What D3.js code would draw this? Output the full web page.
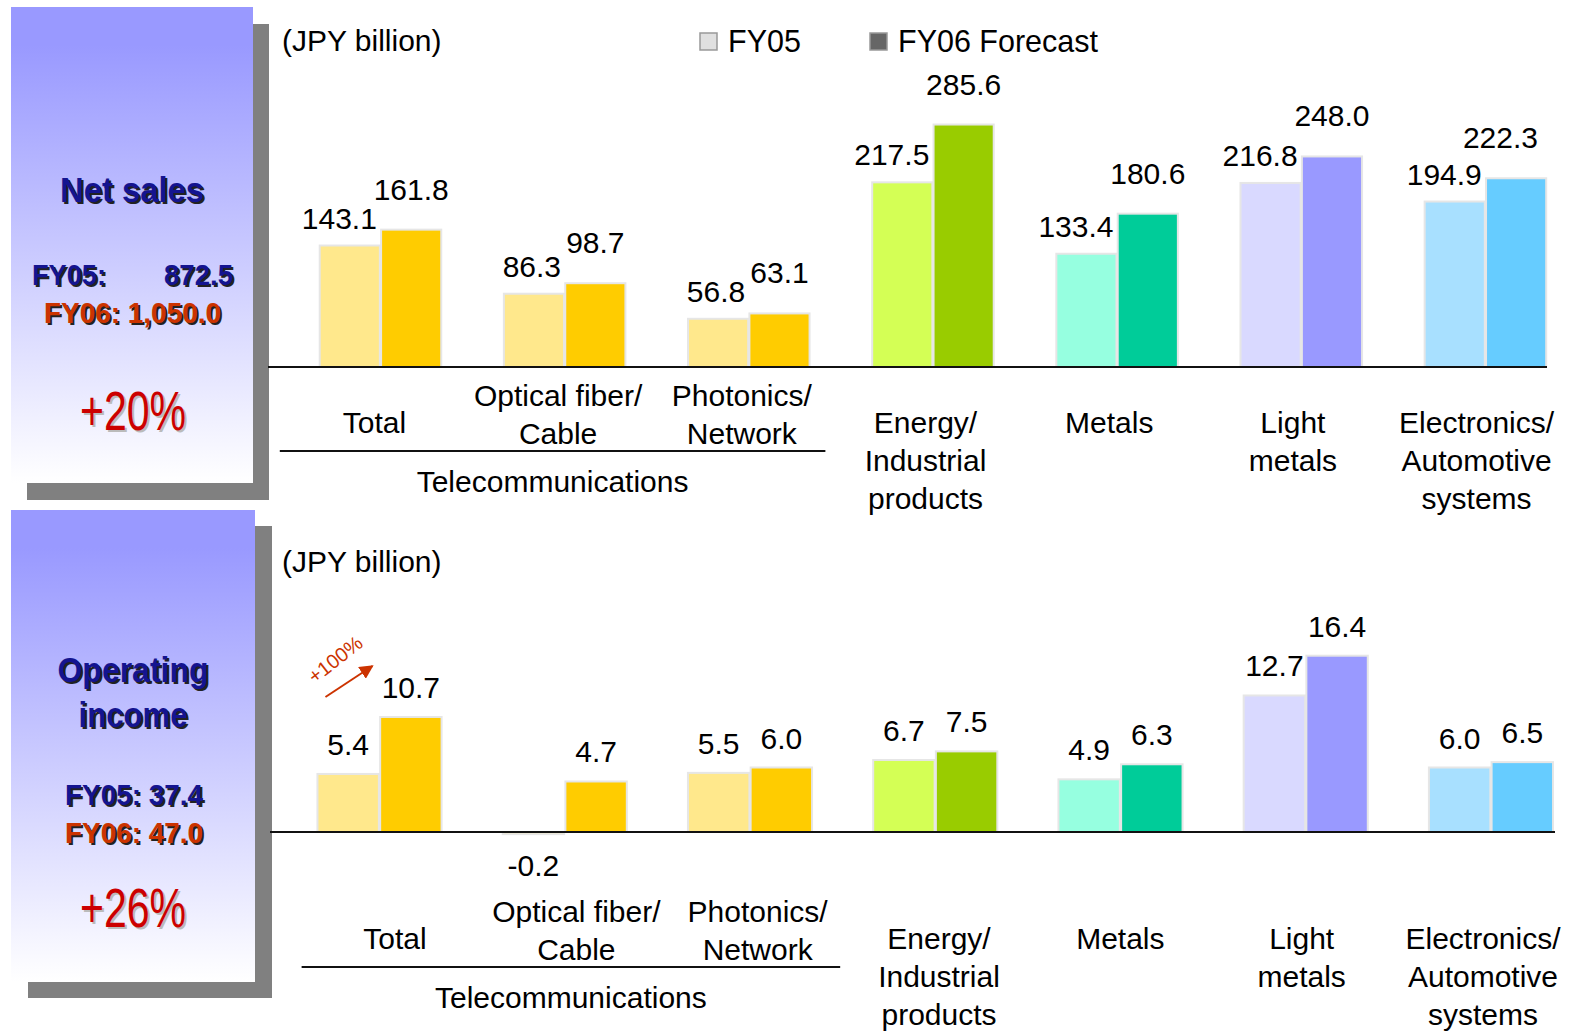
<!DOCTYPE html>
<html><head><meta charset="utf-8">
<script src="https://cdn.jsdelivr.net/npm/d3@7"></script>
<style>body{margin:0;background:#fff}svg{display:block}</style>
</head><body>
<svg id="c" width="1569" height="1032"></svg>
<script>
// ---------- DATA ----------
const categories = ["Total", "Optical fiber/ Cable", "Photonics/ Network", "Energy/ Industrial products", "Metals", "Light metals", "Electronics/ Automotive systems"];
const categoryLines = [["Total"], ["Optical fiber/", "Cable"], ["Photonics/", "Network"], ["Energy/", "Industrial", "products"], ["Metals"], ["Light", "metals"], ["Electronics/", "Automotive", "systems"]];
const telecomGroup = ["Total", "Optical fiber/ Cable", "Photonics/ Network"];
const groupLabel = "Telecommunications";
const seriesNames = ["FY05", "FY06 Forecast"];
const unitLabel = "(JPY billion)";

const salesFY05 = [143.1, 86.3, 56.8, 217.5, 133.4, 216.8, 194.9];
const salesFY06 = [161.8, 98.7, 63.1, 285.6, 180.6, 248.0, 222.3];
const incomeFY05 = [5.4, -0.2, 5.5, 6.7, 4.9, 12.7, 6.0];
const incomeFY06 = [10.7, 4.7, 6.0, 7.5, 6.3, 16.4, 6.5];

const colorsFY05 = ["#ffe88c", "#ffe88c", "#ffe88c", "#d4ff55", "#96ffe0", "#d9d9ff", "#a8e0ff"];
const colorsFY06 = ["#ffcc00", "#ffcc00", "#ffcc00", "#99cc00", "#00cc99", "#9999ff", "#66ccff"];
const legendColors = ["#e0e0e0", "#666666"];

const salesSummary = { title: ["Net sales"], fy05: ["FY05:", "872.5"], fy06: "FY06: 1,050.0", change: "+20%" };
const incomeSummary = { title: ["Operating", "income"], fy05: "FY05: 37.4", fy06: "FY06: 47.0", change: "+26%" };
const growthNote = "+100%";

// ---------- SETUP ----------
const FONT = "'Liberation Sans', Arial, Helvetica, sans-serif";
const FS = 30;
const svg = d3.select("#c");
const defs = svg.append("defs");
const grad = defs.append("linearGradient").attr("id", "pg").attr("x1", 0).attr("y1", 0).attr("x2", 0).attr("y2", 1);
grad.append("stop").attr("offset", "0%").attr("stop-color", "#9999ff");
grad.append("stop").attr("offset", "8%").attr("stop-color", "#9999ff");
grad.append("stop").attr("offset", "100%").attr("stop-color", "#ffffff");
defs.append("marker").attr("id", "arr").attr("viewBox", "0 0 10 10").attr("refX", 9).attr("refY", 5)
  .attr("markerWidth", 7).attr("markerHeight", 7).attr("markerUnits", "strokeWidth").attr("orient", "auto")
  .append("path").attr("d", "M0,0 L10,5 L0,10 z").attr("fill", "#cc3300");

// ---------- LEFT PANELS ----------
function shadowText(g, txt, x, y, opts) {
  const mk = (dx, dy, fill) => {
    const t = g.append("text").attr("x", x + dx).attr("y", y + dy).text(txt)
      .attr("font-family", FONT).attr("font-size", opts.size).attr("font-weight", opts.weight || "bold")
      .attr("text-anchor", opts.anchor || "middle").attr("fill", fill);
    if (opts.len) t.attr("textLength", opts.len).attr("lengthAdjust", "spacingAndGlyphs");
    return t;
  };
  mk(opts.sd || 2, opts.sd || 2, opts.shadow || "#222");
  mk(0, 0, opts.fill);
}
function panel(p) {
  const g = svg.append("g");
  g.append("rect").attr("x", p.x + p.sx).attr("y", p.y + p.sy).attr("width", p.w).attr("height", p.h).attr("fill", "#808080");
  g.append("rect").attr("x", p.x).attr("y", p.y).attr("width", p.w).attr("height", p.h).attr("fill", "url(#pg)");
  return g;
}
const NAVY = "#141490", ORANGE = "#cc3300", RED = "#cc0000";
{
  const g = panel({ x: 11, y: 7, w: 242, h: 476, sx: 16, sy: 17 });
  shadowText(g, salesSummary.title[0], 132, 202, { size: 35, fill: NAVY, len: 144 });
  shadowText(g, salesSummary.fy05[0], 32, 285, { size: 30, fill: NAVY, anchor: "start", len: 74 });
  shadowText(g, salesSummary.fy05[1], 233, 285, { size: 30, fill: NAVY, anchor: "end", len: 69 });
  shadowText(g, salesSummary.fy06, 44, 323, { size: 30, fill: ORANGE, anchor: "start", len: 177 });
  shadowText(g, salesSummary.change, 133, 430, { size: 56, weight: "normal", fill: RED, len: 106, shadow: "#bbbbbb", sd: 2 });
}
{
  const g = panel({ x: 11, y: 510, w: 244, h: 472, sx: 17, sy: 16 });
  shadowText(g, incomeSummary.title[0], 133, 682, { size: 35, fill: NAVY, len: 151 });
  shadowText(g, incomeSummary.title[1], 133, 727, { size: 35, fill: NAVY, len: 109 });
  shadowText(g, incomeSummary.fy05, 134, 805, { size: 29, fill: NAVY, len: 138 });
  shadowText(g, incomeSummary.fy06, 134, 843, { size: 29, fill: ORANGE, len: 138 });
  shadowText(g, incomeSummary.change, 133, 927, { size: 56, weight: "normal", fill: RED, len: 106, shadow: "#bbbbbb", sd: 2 });
}

// ---------- CHARTS ----------
function drawChart(cfg) {
  const g = svg.append("g");
  const x0 = d3.scaleBand().domain(categories).range(cfg.xRange).paddingInner(cfg.pIn).paddingOuter(cfg.pIn / 2);
  const x1 = d3.scaleBand().domain([0, 1]).range([0, x0.bandwidth()]).paddingInner(0.02);
  const y = d3.scaleLinear().domain(cfg.yDomain).range(cfg.yRange);
  const lx = d3.scalePoint().domain(categories).range(cfg.labelRange);
  const base = y(0);

  g.append("text").attr("x", 282).attr("y", cfg.unitY).text(unitLabel)
    .attr("font-family", FONT).attr("font-size", FS).attr("fill", "#000");

  const rows = categories.map((c, i) => ({ c, i, v: [cfg.s1[i], cfg.s2[i]] }));
  const colorSets = [colorsFY05, colorsFY06];
  rows.forEach(r => {
    r.v.forEach((v, k) => {
      const bx = x0(r.c) + x1(k), bw = x1.bandwidth();
      g.append("rect").attr("x", bx).attr("width", bw)
        .attr("y", Math.min(y(v), base)).attr("height", Math.abs(y(v) - base))
        .attr("fill", colorSets[k][r.i]).attr("stroke", "#e6e6e6").attr("stroke-width", 2);
    });
  });
  g.append("line").attr("x1", cfg.lineX[0]).attr("x2", cfg.lineX[1]).attr("y1", base).attr("y2", base)
    .attr("stroke", "#111").attr("stroke-width", 2.2);

  rows.forEach(r => {
    r.v.forEach((v, k) => {
      const bx = x0(r.c) + x1(k), bw = x1.bandwidth();
      const t = g.append("text").text(v.toFixed(1))
        .attr("font-family", FONT).attr("font-size", FS).attr("fill", "#000");
      if (v < 0) {
        t.attr("x", bx + bw / 2).attr("y", base + 44).attr("text-anchor", "middle");
      } else if (cfg.mode === "sales" && k === 0) {
        t.attr("x", bx + bw - 3).attr("y", y(v) - 17).attr("text-anchor", "end");
      } else if (cfg.mode === "sales") {
        let cx = bx + bw / 2;
        t.attr("x", cx).attr("y", y(v) - 30).attr("text-anchor", "middle");
        const w = t.node().getComputedTextLength();
        if (cx + w / 2 > cfg.labelMaxX) t.attr("x", cfg.labelMaxX - w / 2);
      } else {
        t.attr("x", bx + bw / 2).attr("y", y(v) - 19).attr("text-anchor", "middle");
      }
    });
  });

  categories.forEach((c, i) => {
    const lines = categoryLines[i];
    const inTel = telecomGroup.includes(c);
    const start = base + cfg.labelOff - (inTel && lines.length > 1 ? 27 : 0);
    lines.forEach((ln, j) => {
      g.append("text").attr("x", lx(c)).attr("y", start + 10 + j * 38).text(ln)
        .attr("text-anchor", "middle").attr("font-family", FONT).attr("font-size", FS).attr("fill", "#000");
    });
  });
  const step = lx.step();
  const ux1 = lx(telecomGroup[0]) - step * 0.515, ux2 = lx(telecomGroup[2]) + step * 0.455;
  const uy = base + cfg.labelOff + 28;
  g.append("line").attr("x1", ux1).attr("x2", ux2).attr("y1", uy).attr("y2", uy).attr("stroke", "#111").attr("stroke-width", 2);
  g.append("text").attr("x", (ux1 + ux2) / 2).attr("y", uy + 41).text(groupLabel)
    .attr("text-anchor", "middle").attr("font-family", FONT).attr("font-size", FS).attr("fill", "#000");

  return { g, x0, x1, y };
}

const salesChart = drawChart({
  mode: "sales", s1: salesFY05, s2: salesFY06,
  xRange: [288.4, 1577.5], pIn: 0.34,
  yDomain: [0, 300], yRange: [367, 367 - 300 * 0.849],
  labelRange: [374.4, 1476.6], lineX: [268, 1547], labelMaxX: 1538,
  unitY: 51, labelOff: 56
});
const incomeChart = drawChart({
  mode: "income", s1: incomeFY05, s2: incomeFY06,
  xRange: [286.9, 1583.6], pIn: 0.33,
  yDomain: [0, 20], yRange: [832, 832 - 20 * 10.75],
  labelRange: [395, 1483], lineX: [270, 1555], labelMaxX: 1560,
  unitY: 572, labelOff: 107
});

// legend (top chart)
{
  const lg = svg.append("g");
  const items = [{ x: 700 }, { x: 870 }];
  seriesNames.forEach((s, k) => {
    lg.append("rect").attr("x", items[k].x).attr("y", 33).attr("width", 17).attr("height", 17)
      .attr("fill", legendColors[k]).attr("stroke", "#999").attr("stroke-width", 1.5);
    lg.append("text").attr("x", items[k].x + 28).attr("y", 52).text(s)
      .attr("font-family", FONT).attr("font-size", 30.5).attr("fill", "#000");
  });
}

// growth arrow annotation on bottom Total
{
  const c = categories[0];
  const bx = incomeChart.x0(c) + incomeChart.x1(0);
  const topY = incomeChart.y(incomeFY06[0]);
  const g = svg.append("g");
  g.append("line").attr("x1", bx + 8).attr("y1", topY - 20).attr("x2", bx + 55).attr("y2", topY - 51)
    .attr("stroke", "#cc3300").attr("stroke-width", 2).attr("marker-end", "url(#arr)");
  g.append("text").text(growthNote)
    .attr("transform", `translate(${bx + 22},${topY - 52}) rotate(-38)`)
    .attr("text-anchor", "middle").attr("font-family", FONT).attr("font-size", 20).attr("fill", "#cc3300");
}
</script>
</body></html>
